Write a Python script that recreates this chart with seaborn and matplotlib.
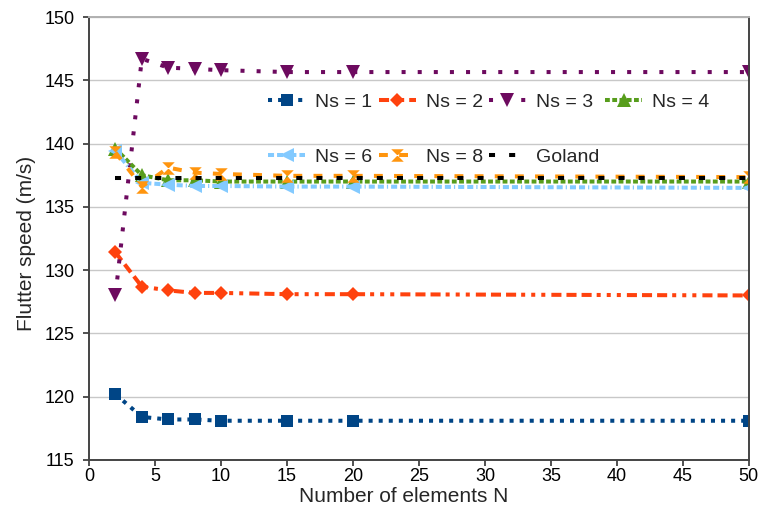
import matplotlib
matplotlib.use('Agg')
import matplotlib.pyplot as plt
import seaborn as sns
from matplotlib.path import Path

# Datos
n_elementos = [2, 4, 6, 8, 10, 15, 20, 50]
ns1 = [120.2, 118.4, 118.2, 118.2, 118.1, 118.1, 118.1, 118.1]
ns2 = [131.4, 128.7, 128.4, 128.2, 128.2, 128.1, 128.1, 128.0]
ns3 = [128.0, 146.7, 146.0, 145.9, 145.8, 145.65, 145.65, 145.65]
ns4 = [139.6, 137.5, 137.1, 137.1, 137.0, 137.0, 137.0, 137.0]
ns6 = [139.4, 136.9, 136.75, 136.65, 136.65, 136.6, 136.6, 136.5]
ns8 = [139.3, 136.6, 138.1, 137.7, 137.6, 137.45, 137.45, 137.35]
goland_x = [2, 50]
goland = [137.25, 137.25]

sns.set_theme(style='white')
plt.rcParams['font.family'] = ['Liberation Sans', 'DejaVu Sans']

# marcador tipo reloj de arena
reloj = Path([(-1, 1), (1, 1), (-1, -1), (1, -1), (-1, 1)],
             [Path.MOVETO, Path.LINETO, Path.LINETO, Path.LINETO, Path.CLOSEPOLY])

fig = plt.figure(figsize=(7.61, 5.09), dpi=100)
ax = fig.add_axes([0.117, 0.0963, 0.867, 0.8703])

lw = 2.9
series = [
    (ns1, 'Ns = 1', '#004586', 's', 8.5, (0, (1, 1.5))),
    (ns2, 'Ns = 2', '#ff420e', 'D', 7.5, (0, (2.5, 1.25, 2.5, 1.25, 2.5, 1.25, 1, 1.5, 1, 1.5, 1, 1.5))),
    (ns3, 'Ns = 3', '#6d0a5f', 'v', 10, (0, (1, 3))),
    (ns4, 'Ns = 4', '#579d1c', '^', 10, (0, (1.2, 0.6))),
    (ns6, 'Ns = 6', '#83caff', '<', 10, (0, (1.5, 0.75, 1.5, 0.75, 0.3, 0.75))),
    (ns8, 'Ns = 8', '#ff950e', reloj, 9, (0, (2.2, 2.8))),
]
for vals, lab, col, mk, ms, ls in series:
    sns.lineplot(x=n_elementos, y=vals, ax=ax, color=col, marker=mk, markersize=ms,
                 markeredgewidth=0, lw=lw, linestyle=ls, label=lab, legend=False)
sns.lineplot(x=goland_x, y=goland, ax=ax, color='black', lw=lw,
             linestyle=(0, (1.5, 3.5)), label='Goland', legend=False)

ax.set_xlim(0, 50)
ax.set_ylim(115, 150)
ax.set_xticks(range(0, 51, 5))
ax.set_yticks(range(115, 151, 5))
ax.yaxis.grid(True, color='#c8c8c8', lw=1)
ax.tick_params(axis='both', direction='out', length=4, width=1.2, color='#333333',
               labelsize=13, labelcolor='black', pad=2)
ax.tick_params(axis='x', bottom=True)
ax.tick_params(axis='y', left=True, pad=6.5)
for lado in ['left', 'bottom', 'right']:
    ax.spines[lado].set_color('#444444')
    ax.spines[lado].set_linewidth(1.4)
ax.spines['top'].set_color('#b0b0b0')
ax.spines['top'].set_linewidth(1.4)

ax.set_xlabel('Number of elements N', fontsize=15, labelpad=1)
ax.set_ylabel('Flutter speed (m/s)', fontsize=15, labelpad=6)
ax.xaxis.label.set_x(0.477)
ax.yaxis.label.set_y(0.488)

h, l = ax.get_legend_handles_labels()
orden = [0, 4, 1, 5, 2, 6, 3]
ax.legend([h[i] for i in orden], [l[i] for i in orden], ncol=4, frameon=False,
          loc='upper left', bbox_to_anchor=(0.272, 0.828), borderaxespad=0, borderpad=0,
          fontsize=14, handlelength=1.9, handletextpad=0.51, columnspacing=0.32,
          labelspacing=1.92)

fig.savefig('out.png', dpi=100)
